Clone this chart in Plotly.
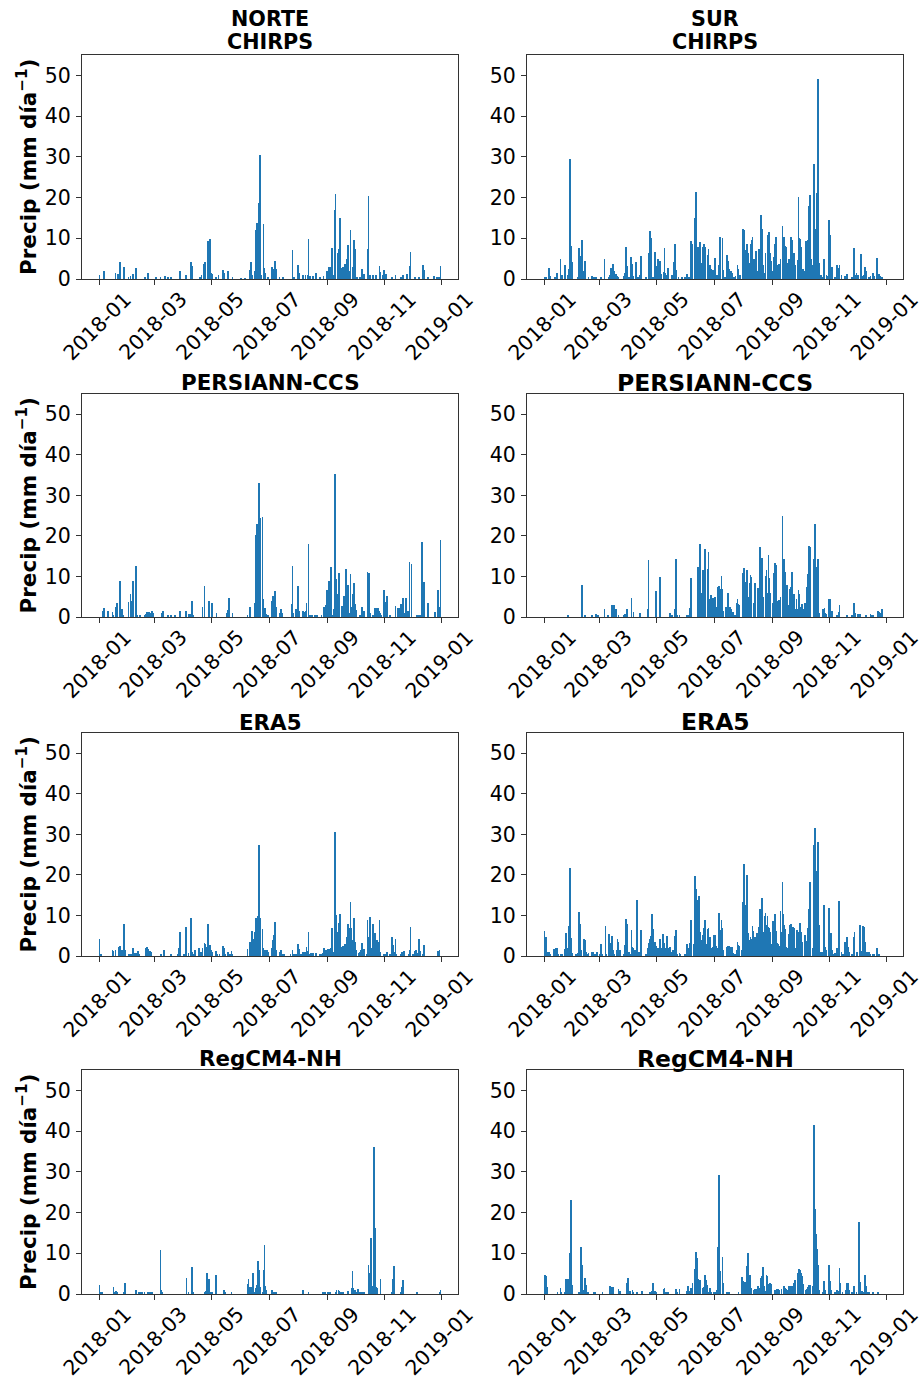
import numpy as np
import pandas as pd
import plotly.graph_objects as go

# ---------------- data (day index 0 = 2018-01-01 ; value in mm/day ; unlisted days = 0) -------------
dates = pd.date_range("2018-01-01", "2018-12-31", freq="D")

norte_chirps = [(0,1.0),(5,1.9),(17,1.5),(20,1.2),(22,4.2),(26,2.9),(31,0.5),(33,0.8),(36,1.3),(39,2.6),(48,0.4),(49,0.5),(52,1.5),(60,0.3),(65,0.3),(70,0.8),(73,0.3),(76,0.3),(86,2.0),(92,1.0),(98,4.2),(99,3.3),(107,0.5),(109,1.0),(111,3.8),(113,4.2),(116,9.4),(117,4.2),(118,9.9),(119,1.5),(120,1.2),(124,0.5),(127,1.0),(132,2.2),(133,1.5),(137,1.9),(142,0.5),(151,0.2),(155,0.2),(160,2.2),(162,4.2),(163,1.0),(166,2.0),(167,12.0),(168,13.8),(169,13.5),(170,18.7),(171,30.5),(172,14.0),(173,1.0),(175,13.6),(176,2.6),(177,1.5),(180,0.5),(184,2.9),(185,2.5),(187,4.4),(188,2.9),(189,2.5),(192,0.5),(196,0.5),(206,7.1),(208,0.5),(212,3.4),(213,1.5),(217,1.0),(220,1.0),(222,1.0),(223,9.9),(225,0.7),(228,0.7),(231,1.5),(235,0.3),(239,0.8),(243,2.0),(245,3.0),(246,3.0),(248,7.6),(250,1.0),(251,16.9),(252,20.8),(254,6.5),(255,6.0),(256,7.3),(257,14.9),(259,2.6),(260,3.0),(262,3.8),(264,5.0),(265,8.3),(267,2.0),(268,12.0),(270,2.9),(271,5.0),(272,9.6),(273,7.3),(275,0.5),(278,0.5),(280,2.4),(282,1.2),(286,7.3),(287,20.3),(289,1.0),(292,1.0),(295,1.0),(299,3.2),(300,1.8),(302,1.0),(304,2.2),(306,1.2),(312,0.3),(316,1.0),(322,0.6),(324,0.9),(328,1.2),(331,3.2),(332,6.6),(337,0.3),(341,0.3),(345,3.4),(346,2.2),(351,0.3),(357,0.8),(360,0.6),(362,0.5),(364,3.2)]

sur_chirps = [(0,0.4),(2,0.5),(5,2.6),(6,0.8),(11,0.5),(13,1.5),(17,4.9),(19,1.0),(22,3.4),(25,1.0),(26,2.5),(27,29.4),(28,8.1),(29,4.2),(36,0.3),(37,7.6),(38,5.7),(40,9.6),(42,2.0),(43,4.4),(47,0.3),(51,0.8),(53,0.5),(55,0.5),(60,0.5),(64,4.9),(69,0.5),(70,1.0),(71,2.6),(73,3.6),(74,2.0),(76,1.2),(78,0.8),(79,0.4),(85,0.7),(86,1.5),(87,7.8),(88,3.2),(90,0.5),(92,5.5),(94,3.6),(95,0.8),(98,4.2),(100,0.5),(102,1.0),(103,5.7),(108,0.3),(111,6.3),(112,4.5),(113,11.8),(114,10.1),(116,0.5),(118,6.6),(119,3.2),(121,4.8),(122,2.2),(123,4.4),(125,1.2),(127,1.8),(128,7.5),(129,1.5),(131,1.0),(132,2.6),(136,1.0),(138,4.2),(139,8.6),(141,2.2),(143,0.3),(147,0.3),(150,0.4),(152,1.3),(154,0.6),(156,9.4),(158,8.6),(160,1.8),(161,14.9),(162,21.3),(163,4.2),(164,7.9),(165,3.0),(166,9.2),(168,4.0),(169,7.9),(170,8.6),(171,6.5),(172,7.8),(174,6.0),(175,7.3),(177,3.4),(178,2.5),(180,2.2),(181,2.0),(182,5.1),(184,1.0),(186,3.4),(187,10.4),(188,9.2),(190,10.1),(191,2.2),(193,0.5),(195,5.9),(196,4.4),(197,2.5),(199,2.0),(200,1.5),(202,0.4),(204,0.8),(206,3.4),(207,2.5),(209,1.0),(212,12.4),(213,12.0),(214,6.0),(215,7.1),(216,8.7),(217,6.3),(219,4.0),(220,8.5),(221,9.6),(222,10.4),(223,3.5),(224,5.0),(226,6.8),(227,2.0),(229,7.3),(230,7.1),(231,15.6),(232,12.4),(233,3.5),(235,1.5),(236,6.5),(238,10.9),(239,6.0),(240,11.6),(241,6.5),(242,4.5),(244,2.0),(245,5.3),(246,8.7),(247,10.4),(248,3.5),(249,2.5),(250,3.6),(252,5.0),(254,13.0),(255,8.6),(256,10.4),(257,8.2),(258,7.9),(259,4.0),(261,5.0),(263,10.2),(264,9.6),(265,5.2),(266,6.3),(267,3.5),(270,4.6),(271,20.1),(272,10.0),(273,9.7),(274,7.9),(276,2.5),(278,2.0),(279,9.4),(280,8.3),(281,9.6),(282,17.9),(283,20.6),(285,5.0),(286,3.5),(287,23.4),(288,28.2),(289,12.3),(291,21.0),(292,49.0),(293,4.0),(295,1.0),(296,0.5),(298,5.0),(299,4.8),(301,1.0),(302,0.8),(304,14.5),(305,10.7),(307,3.0),(310,0.4),(312,3.4),(314,2.7),(315,3.4),(317,1.0),(321,0.8),(323,1.3),(328,0.4),(330,7.6),(332,1.0),(333,1.4),(335,1.0),(338,6.1),(339,0.8),(341,1.0),(342,3.0),(343,2.0),(346,0.5),(348,0.7),(350,1.0),(351,1.5),(352,0.8),(355,5.2),(357,1.2),(358,0.7),(360,0.3)]

norte_persiann = [(4,1.6),(5,2.1),(9,1.5),(14,1.2),(15,0.5),(17,2.5),(19,3.5),(22,8.8),(24,1.9),(25,0.3),(31,3.8),(33,5.6),(34,3.9),(36,9.0),(39,12.5),(40,0.4),(43,0.6),(48,0.4),(49,0.8),(51,1.3),(53,1.2),(55,1.0),(56,1.4),(57,1.0),(67,1.0),(68,1.6),(73,0.4),(76,0.4),(81,0.5),(86,1.6),(92,1.6),(95,0.8),(97,0.8),(99,4.0),(100,0.6),(110,2.4),(112,7.6),(117,4.0),(120,3.5),(125,1.1),(136,1.0),(137,1.7),(138,4.8),(142,1.0),(158,0.3),(161,2.4),(166,3.5),(167,20.2),(168,22.9),(170,33.1),(172,24.4),(174,24.7),(175,4.4),(177,2.1),(178,0.8),(180,0.5),(184,3.9),(185,5.2),(187,6.3),(188,3.0),(189,2.5),(193,0.9),(194,1.9),(195,1.0),(205,3.3),(206,12.7),(207,1.0),(210,1.9),(212,7.7),(213,1.5),(217,1.6),(218,1.2),(220,1.5),(221,3.5),(223,18.1),(225,0.6),(227,0.5),(230,0.5),(232,0.5),(237,0.6),(239,0.6),(240,2.5),(242,3.0),(243,6.6),(245,8.9),(246,6.3),(247,12.4),(249,0.5),(250,2.0),(251,35.2),(252,21.3),(253,9.3),(254,5.7),(255,5.7),(256,10.8),(259,2.7),(260,2.7),(261,5.2),(262,3.0),(263,11.9),(265,8.0),(267,1.0),(268,10.6),(269,2.5),(270,5.6),(272,8.3),(273,3.2),(274,1.7),(278,0.5),(280,2.5),(282,1.6),(286,11.2),(288,10.9),(289,1.0),(292,0.5),(294,2.1),(296,2.1),(297,2.1),(298,1.5),(300,1.0),(301,0.5),(303,2.7),(304,6.6),(305,3.8),(307,5.2),(310,0.3),(316,2.7),(319,2.1),(321,2.1),(322,3.1),(324,4.6),(325,1.0),(327,4.8),(329,1.5),(331,13.5),(333,13.0),(339,0.5),(341,0.6),(343,0.3),(344,18.5),(346,8.7),(350,1.2),(351,3.5),(358,1.2),(361,6.6),(363,2.4),(364,19.0)]

sur_persiann = [(25,0.3),(40,8.0),(43,0.5),(51,0.5),(55,0.8),(57,0.5),(64,2.0),(68,0.3),(72,3.0),(74,3.0),(76,2.0),(77,1.0),(79,0.6),(85,0.5),(86,0.8),(88,2.0),(93,4.6),(95,1.2),(102,1.0),(110,2.0),(111,14.0),(119,6.4),(123,9.8),(134,1.0),(136,0.5),(139,2.0),(140,14.2),(142,0.5),(144,0.5),(152,0.5),(154,0.6),(155,2.1),(156,9.5),(157,7.2),(164,12.4),(165,12.4),(166,18.1),(167,6.0),(169,11.6),(171,16.7),(172,3.0),(174,11.9),(175,16.0),(177,4.4),(178,5.4),(179,2.0),(180,4.7),(182,5.0),(183,2.5),(185,7.3),(186,7.6),(187,6.8),(189,10.1),(190,6.9),(191,1.5),(194,2.5),(196,6.0),(197,2.5),(198,2.5),(199,2.0),(201,1.2),(203,0.5),(205,3.4),(206,4.4),(207,3.2),(208,3.0),(212,10.9),(213,12.2),(214,7.0),(215,8.7),(216,11.6),(217,5.0),(218,3.0),(219,8.3),(220,10.3),(221,9.9),(223,3.0),(224,3.4),(225,8.5),(228,7.1),(229,7.1),(230,17.2),(231,13.9),(232,14.6),(233,5.0),(236,10.2),(237,11.6),(238,6.0),(239,15.3),(240,9.6),(241,6.0),(244,3.4),(245,10.8),(246,13.2),(247,12.8),(248,3.9),(249,3.5),(250,4.3),(252,5.0),(254,25.0),(255,10.1),(256,14.4),(257,11.2),(258,7.5),(259,7.9),(260,3.0),(262,6.9),(263,7.5),(264,11.1),(265,4.8),(266,5.7),(267,2.0),(269,4.4),(270,2.0),(271,6.6),(272,5.7),(273,2.5),(274,1.5),(275,3.2),(276,2.0),(278,3.4),(279,2.0),(280,7.3),(281,10.6),(282,17.5),(283,17.2),(284,4.6),(288,14.4),(289,22.9),(290,7.9),(291,12.4),(292,14.4),(293,1.0),(297,1.9),(299,2.1),(300,1.0),(301,0.8),(304,4.4),(305,4.4),(307,1.5),(312,0.5),(314,1.3),(315,3.0),(323,0.3),(328,0.5),(330,3.5),(332,1.0),(334,0.8),(335,0.8),(337,0.8),(343,0.4),(348,0.8),(349,0.5),(351,0.3),(356,1.5),(357,1.2),(359,1.0),(360,1.9)]

norte_era5 = [(0,4.3),(1,0.4),(2,0.3),(14,1.5),(15,1.2),(17,1.5),(21,2.3),(22,2.5),(24,1.5),(26,7.8),(27,1.5),(31,0.6),(32,0.6),(34,0.6),(36,2.0),(38,0.8),(39,0.7),(41,1.2),(42,0.6),(49,1.0),(50,1.9),(51,2.2),(52,1.8),(54,1.2),(55,1.0),(65,0.5),(66,0.4),(69,1.5),(76,0.3),(84,0.5),(85,1.9),(86,6.0),(90,0.6),(92,7.2),(93,1.1),(95,0.8),(98,9.3),(99,1.0),(101,0.6),(102,1.5),(106,2.0),(108,1.0),(109,0.8),(110,1.9),(112,3.1),(113,2.9),(114,2.3),(116,8.0),(117,2.3),(118,2.7),(119,1.6),(120,1.0),(124,1.2),(126,0.6),(128,0.3),(132,2.5),(133,2.0),(134,0.5),(137,1.1),(139,0.6),(141,1.2),(142,0.6),(158,1.7),(160,1.9),(161,3.5),(163,6.1),(164,4.2),(165,2.3),(166,6.0),(167,9.3),(168,9.3),(169,9.8),(170,27.3),(171,9.3),(172,4.0),(174,6.6),(175,1.9),(177,1.5),(179,1.5),(180,1.0),(184,1.9),(185,3.9),(186,5.2),(187,8.5),(188,4.8),(189,1.5),(192,1.0),(194,1.5),(195,0.5),(197,0.5),(204,0.5),(206,1.5),(208,0.5),(210,0.6),(212,3.0),(213,1.7),(215,0.4),(217,1.1),(219,1.1),(221,2.3),(222,1.3),(223,5.8),(225,0.6),(226,0.8),(228,0.8),(231,0.8),(235,0.3),(237,0.5),(238,0.8),(240,1.9),(241,1.5),(242,1.5),(244,1.7),(245,1.7),(246,1.7),(247,2.0),(248,6.8),(250,1.0),(251,30.6),(252,16.2),(253,10.1),(254,6.0),(255,8.2),(256,5.0),(257,10.4),(258,2.0),(259,2.2),(260,2.5),(262,3.0),(263,2.0),(264,4.6),(265,8.0),(266,2.0),(267,6.8),(268,13.2),(269,6.8),(270,4.0),(271,8.6),(272,9.3),(273,3.5),(274,1.5),(277,0.7),(278,1.0),(279,1.6),(280,3.1),(282,1.8),(285,0.5),(286,8.8),(287,4.8),(288,3.5),(289,9.5),(291,2.0),(292,7.8),(293,2.3),(294,5.6),(295,3.7),(296,3.9),(297,3.5),(298,2.0),(299,8.9),(300,1.0),(304,0.6),(305,0.4),(307,1.1),(310,0.6),(312,4.6),(313,2.7),(314,1.0),(316,4.1),(317,0.3),(322,0.6),(323,1.0),(325,1.3),(330,0.6),(331,1.6),(332,7.2),(335,0.6),(337,1.2),(338,1.6),(340,0.8),(341,4.2),(342,1.2),(345,0.5),(346,2.8),(361,1.3),(363,1.5)]

sur_era5 = [(0,6.1),(1,2.9),(2,4.8),(4,1.0),(5,1.1),(6,0.6),(10,1.7),(12,1.9),(13,1.9),(15,0.6),(17,0.5),(19,0.3),(22,1.7),(23,5.6),(24,1.0),(25,1.9),(26,7.5),(27,21.7),(28,4.5),(29,0.8),(33,0.5),(35,0.5),(36,0.8),(37,10.9),(38,8.0),(39,1.5),(42,4.2),(43,3.9),(44,1.0),(46,0.5),(47,0.8),(51,1.1),(52,1.1),(54,0.5),(56,1.1),(59,0.4),(60,2.9),(61,1.2),(62,0.5),(65,7.5),(66,0.5),(69,5.4),(70,3.1),(72,5.0),(73,1.5),(74,0.5),(77,1.5),(78,4.1),(79,3.5),(81,1.5),(85,0.5),(86,2.7),(87,9.2),(88,8.0),(90,1.0),(91,0.5),(93,6.4),(94,2.3),(95,2.0),(97,1.5),(99,13.7),(100,1.0),(102,1.1),(103,6.5),(108,0.5),(110,2.0),(111,3.1),(112,3.5),(113,4.3),(114,4.9),(115,10.4),(116,6.6),(117,1.5),(118,3.5),(119,2.5),(120,2.0),(122,2.0),(123,4.3),(124,2.0),(126,5.4),(127,5.4),(128,3.1),(130,2.0),(131,4.9),(133,2.0),(134,2.3),(136,1.0),(137,1.5),(139,5.0),(140,6.5),(142,0.5),(144,0.8),(145,0.4),(150,0.6),(152,2.9),(153,2.0),(154,2.0),(155,3.1),(156,8.8),(157,8.6),(159,3.0),(160,10.9),(161,19.8),(162,16.6),(163,13.8),(164,13.5),(165,14.8),(166,6.0),(167,4.0),(169,5.3),(170,6.8),(171,8.8),(172,8.2),(173,3.0),(174,6.6),(175,6.8),(177,4.8),(178,2.0),(180,2.3),(181,5.3),(182,5.3),(183,2.5),(184,2.0),(186,10.7),(187,6.5),(188,5.2),(189,8.8),(190,6.8),(191,1.5),(195,2.3),(196,2.5),(197,2.5),(198,2.3),(200,2.3),(201,0.8),(203,0.5),(205,1.5),(206,3.4),(207,2.7),(208,2.5),(211,1.5),(212,13.2),(213,22.6),(214,10.1),(215,12.7),(216,20.1),(217,5.6),(219,3.9),(220,4.6),(221,4.2),(222,7.5),(223,6.1),(224,4.8),(225,4.8),(227,5.7),(229,7.2),(230,11.7),(231,11.6),(232,14.4),(233,6.0),(234,3.0),(235,9.9),(236,10.6),(237,7.6),(238,9.9),(239,7.2),(240,6.8),(241,5.8),(242,2.0),(243,3.0),(244,8.6),(245,8.6),(246,10.3),(247,6.1),(248,3.1),(249,2.9),(250,2.5),(252,11.1),(253,6.0),(254,18.3),(255,10.4),(256,7.6),(257,6.6),(258,2.3),(259,2.0),(261,5.4),(262,7.6),(263,7.8),(264,5.3),(265,7.2),(266,7.0),(267,2.0),(269,6.4),(270,6.4),(271,5.9),(272,5.3),(273,8.2),(274,5.8),(275,3.5),(278,5.2),(279,3.7),(280,3.5),(281,6.8),(282,11.6),(283,18.3),(284,2.0),(286,2.0),(287,27.3),(288,12.0),(289,31.6),(290,15.8),(291,20.9),(292,28.1),(293,7.6),(294,1.0),(296,1.0),(298,12.7),(299,11.3),(300,2.3),(301,1.5),(303,1.0),(304,11.9),(306,5.6),(307,1.5),(309,0.5),(310,0.8),(312,1.9),(313,1.2),(314,13.5),(315,11.3),(317,1.0),(319,0.5),(321,3.5),(323,4.8),(324,2.3),(325,1.0),(328,0.5),(330,4.8),(331,6.0),(333,1.0),(334,0.9),(337,7.6),(339,1.2),(340,7.3),(341,7.1),(342,3.4),(344,1.0),(346,1.1),(348,0.6),(350,0.4),(352,0.3),(355,2.0),(357,0.5)]

norte_regcm = [(0,2.2),(1,0.4),(3,0.3),(15,1.7),(16,0.5),(18,0.7),(19,0.6),(26,0.5),(27,2.7),(39,0.9),(42,0.6),(44,0.6),(46,0.3),(48,0.4),(52,0.5),(54,0.5),(56,0.4),(65,10.8),(66,1.1),(67,0.3),(93,4.0),(95,0.6),(99,6.7),(100,0.5),(112,0.5),(114,0.7),(115,5.1),(116,1.1),(117,3.8),(118,0.5),(120,0.3),(124,4.6),(133,0.9),(134,0.5),(141,0.3),(158,2.4),(159,3.8),(160,0.8),(161,1.7),(163,1.6),(164,5.1),(165,0.5),(167,1.5),(168,2.1),(169,8.0),(170,5.9),(171,1.7),(172,1.6),(174,0.5),(175,5.9),(176,12.1),(177,2.0),(178,1.0),(184,1.1),(186,0.6),(187,0.6),(189,0.4),(217,1.0),(223,0.4),(238,0.6),(240,0.6),(241,0.4),(244,0.5),(246,0.5),(252,0.6),(253,1.0),(255,1.0),(256,0.7),(258,0.4),(260,0.3),(265,0.7),(269,1.5),(270,5.7),(271,1.5),(272,1.0),(273,1.0),(274,0.6),(276,1.2),(278,0.6),(280,0.4),(282,0.6),(287,7.1),(288,5.1),(289,2.0),(290,13.8),(291,2.0),(293,36.0),(294,16.1),(295,1.7),(296,1.5),(300,3.8),(312,0.5),(313,3.8),(314,6.9),(315,0.6),(322,0.5),(323,1.6),(324,3.5),(339,0.4),(363,0.6),(364,1.0)]

sur_regcm = [(0,4.6),(1,4.6),(2,4.3),(3,1.7),(14,0.5),(17,1.5),(18,0.3),(22,0.6),(23,3.8),(24,0.5),(25,3.8),(26,2.4),(27,10.0),(28,23.2),(29,2.2),(30,0.4),(37,0.5),(39,11.6),(40,7.1),(41,0.5),(42,1.0),(43,4.0),(44,2.2),(45,0.5),(47,0.3),(53,0.5),(54,0.5),(62,0.4),(70,2.0),(71,1.6),(73,1.7),(79,1.2),(81,0.7),(88,2.6),(89,4.0),(91,0.8),(94,1.1),(95,0.5),(99,0.3),(104,0.8),(112,0.6),(113,0.6),(115,0.8),(116,2.7),(118,0.8),(119,0.6),(127,1.3),(128,1.5),(130,0.6),(132,0.4),(140,1.3),(142,0.3),(144,1.3),(152,0.8),(153,2.0),(154,0.8),(156,1.5),(158,2.8),(160,2.0),(161,6.2),(162,10.3),(163,8.8),(164,3.6),(166,3.5),(169,1.5),(170,1.7),(171,4.6),(172,4.2),(173,3.5),(174,2.1),(175,0.5),(177,1.5),(178,0.6),(181,0.5),(182,0.5),(184,1.0),(185,11.6),(186,29.1),(187,5.6),(188,3.0),(190,9.0),(191,2.8),(195,0.5),(197,0.6),(207,0.6),(211,4.1),(212,3.2),(213,2.8),(214,3.0),(215,2.8),(216,6.9),(217,10.0),(218,2.4),(219,4.6),(220,2.0),(221,1.5),(223,1.0),(224,0.8),(225,1.3),(227,1.3),(228,2.0),(230,1.5),(231,3.9),(232,4.4),(233,6.6),(234,2.0),(236,0.7),(237,4.6),(238,4.3),(239,2.4),(240,2.4),(241,2.6),(242,2.4),(246,1.1),(247,1.1),(248,1.3),(249,1.3),(250,1.0),(253,1.3),(255,1.1),(256,2.0),(257,1.4),(258,1.3),(259,1.0),(261,2.0),(262,1.6),(263,2.0),(264,2.0),(266,2.6),(267,3.4),(270,5.1),(271,6.1),(272,6.1),(273,5.9),(274,5.1),(275,4.3),(276,2.4),(279,1.1),(280,1.3),(281,1.6),(282,2.1),(283,2.2),(284,1.2),(286,2.0),(287,9.2),(288,41.4),(289,20.9),(290,14.7),(291,11.0),(292,7.1),(293,1.0),(297,0.5),(298,3.2),(299,2.4),(300,1.0),(303,0.8),(304,7.1),(305,3.2),(306,1.0),(310,0.5),(312,1.0),(313,0.8),(315,6.4),(316,2.6),(318,0.5),(322,1.0),(323,2.6),(324,2.7),(325,1.0),(328,0.5),(330,2.0),(331,0.8),(333,0.6),(336,17.7),(337,3.0),(339,0.8),(341,0.5),(342,4.6),(343,2.0),(344,0.5),(346,0.3),(351,0.3),(356,0.6)]

panel_series = [norte_chirps, sur_chirps, norte_persiann, sur_persiann,
                norte_era5, sur_era5, norte_regcm, sur_regcm]
panel_titles = [["NORTE", "CHIRPS"], ["SUR", "CHIRPS"],
                ["PERSIANN-CCS"], ["PERSIANN-CCS"],
                ["ERA5"], ["ERA5"],
                ["RegCM4-NH"], ["RegCM4-NH"]]
tick_dates = ["2018-01-01", "2018-03-01", "2018-05-01", "2018-07-01",
              "2018-09-01", "2018-11-01", "2019-01-01"]
tick_text = ["2018-01", "2018-03", "2018-05", "2018-07", "2018-09", "2018-11", "2019-01"]
y_ticks = [0, 10, 20, 30, 40, 50]
y_title = "<b>Precip (mm día<sup>−1</sup>)</b>"

# ---------------- layout geometry ----------------
# positions are measured on the 923x1379 reference; the photographed page is
# squeezed vertically a little, so the figure is drawn slightly taller.
W, REF_H, H = 923, 1379, 1391
KY = H / REF_H
col_px = [(82, 458), (527, 903)]
row_px = [(55, 279), (394, 617), (733, 956), (1070, 1294)]
FONT = "DejaVu Sans"
BLUE = "#1f77b4"
AX = "#333333"
TICK_SIZE = 20.5

def py(y):
    """reference pixel row -> paper fraction"""
    return 1 - (y * KY) / H

def series(pairs):
    arr = np.zeros(len(dates))
    for d, v in pairs:
        arr[d] = v
    return arr

fig = go.Figure()
annotations = []
layout_axes = {}
for i, pairs in enumerate(panel_series):
    r, c = divmod(i, 2)
    n = i + 1
    xs = "" if n == 1 else str(n)
    xa, ya = "x" + xs, "y" + xs
    fig.add_trace(go.Bar(x=dates, y=series(pairs), width=0.8 * 86400000,
                         marker=dict(color=BLUE, line=dict(width=0)),
                         xaxis=xa, yaxis=ya, showlegend=False))
    x0, x1 = col_px[c]
    y0, y1 = row_px[r]
    layout_axes["xaxis" + xs] = dict(
        domain=[x0 / W, x1 / W], anchor=ya, type="date",
        range=["2017-12-13 08:38", "2019-01-18 15:22"],
        tickvals=tick_dates, showticklabels=False, ticks="outside", ticklen=5,
        tickcolor=AX, showline=True, linecolor=AX, linewidth=1, mirror=True,
        showgrid=False, zeroline=False)
    layout_axes["yaxis" + xs] = dict(
        domain=[py(y1), py(y0)], anchor=xa, range=[0, 55],
        tickvals=y_ticks, ticks="outside", ticklen=5, tickcolor=AX,
        tickfont=dict(family=FONT, size=TICK_SIZE, color="black"),
        showline=True, linecolor=AX, linewidth=1, mirror=True,
        showgrid=False, zeroline=False, ticklabelstandoff=1)
    # x tick labels, rotated 45 deg and centred on the tick like matplotlib
    for td, tt in zip(tick_dates, tick_text):
        annotations.append(dict(x=td, xref=xa, y=py(y1), yref="paper",
                                text=tt, showarrow=False, textangle=-45,
                                xanchor="center", yanchor="top", yshift=-5, xshift=-2,
                                font=dict(family=FONT, size=TICK_SIZE, color="black")))
    # panel title
    if r == 0:
        lines_y = [19, 42]
        tsize = 20.7
    else:
        lines_y = [y0 - 11]
        tsize = 21.4 if c == 0 else 23.5
    for txt, ty in zip(panel_titles[i], lines_y):
        annotations.append(dict(x=(x0 + x1) / 2 / W, y=py(ty), xref="paper", yref="paper",
                                text="<b>" + txt + "</b>", showarrow=False, xanchor="center",
                                yanchor="middle", font=dict(family=FONT, size=tsize, color="black")))
    if c == 0:
        annotations.append(dict(x=27 / W, y=py((y0 + y1) / 2), xref="paper", yref="paper",
                                text=y_title, showarrow=False, textangle=-90,
                                xanchor="center", yanchor="middle",
                                font=dict(family=FONT, size=21.5, color="black")))

fig.update_layout(width=W, height=H, margin=dict(l=0, r=0, t=0, b=0),
                  paper_bgcolor="white", plot_bgcolor="white", bargap=0,
                  annotations=annotations, font=dict(family=FONT), **layout_axes)
fig.write_html("out.html", config={"displayModeBar": False},
               post_script="document.body.style.margin='0';")
